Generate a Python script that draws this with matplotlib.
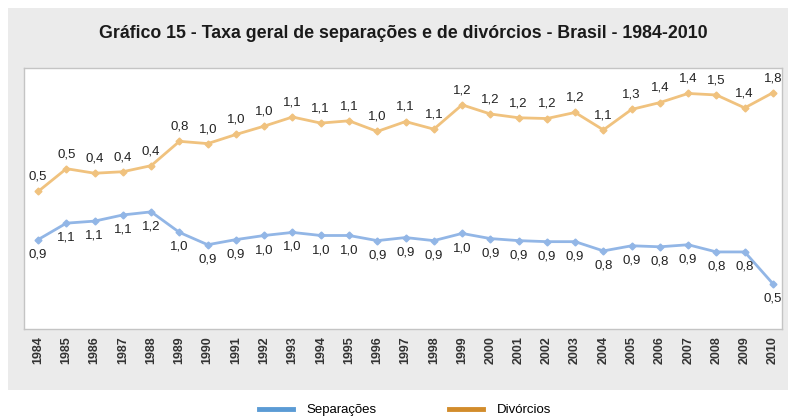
import matplotlib
matplotlib.use('Agg')
import matplotlib.pyplot as plt
from matplotlib.patches import Rectangle
from matplotlib.lines import Line2D

years = list(range(1984, 2011))

# heights of the lines as drawn in the picture (two hidden scales)
div_line = [0.50, 0.80, 0.74, 0.76, 0.84, 1.16, 1.13, 1.25, 1.36, 1.48, 1.40, 1.43, 1.29, 1.42,
            1.32, 1.64, 1.52, 1.47, 1.46, 1.54, 1.31, 1.58, 1.67, 1.79, 1.77, 1.60, 1.80]
sep_line = [0.93, 1.09, 1.11, 1.17, 1.20, 1.00, 0.88, 0.93, 0.97, 1.00, 0.97, 0.97, 0.92, 0.95,
            0.92, 0.99, 0.94, 0.92, 0.91, 0.91, 0.82, 0.87, 0.86, 0.88, 0.81, 0.81, 0.50]

# printed values
div_labels = ['0,5', '0,5', '0,4', '0,4', '0,4', '0,8', '1,0', '1,0', '1,0', '1,1', '1,1', '1,1', '1,0', '1,1',
              '1,1', '1,2', '1,2', '1,2', '1,2', '1,2', '1,1', '1,3', '1,4', '1,4', '1,5', '1,4', '1,8']
sep_labels = ['0,9', '1,1', '1,1', '1,1', '1,2', '1,0', '0,9', '0,9', '1,0', '1,0', '1,0', '1,0', '0,9', '0,9',
              '0,9', '1,0', '0,9', '0,9', '0,9', '0,9', '0,8', '0,9', '0,8', '0,9', '0,8', '0,8', '0,5']

plt.rcParams['font.family'] = ['Liberation Sans', 'DejaVu Sans']

fig = plt.figure(figsize=(7.92, 4.2), dpi=100)
fig.patch.set_facecolor('white')
# grey panel behind title and chart
fig.patches.append(Rectangle((8 / 792, 1 - 390 / 420), 780 / 792, 382 / 420,
                             transform=fig.transFigure, facecolor='#ebebeb', edgecolor='none', zorder=-10))

ax = fig.add_axes([24 / 792, 1 - 329 / 420, 758 / 792, 261 / 420])
ax2 = ax.twinx()

ax.set_facecolor('white')
for s in ax.spines.values():
    s.set_color('#c4c4c4')
    s.set_linewidth(1)
for s in ax2.spines.values():
    s.set_visible(False)

div_color = '#f0c27e'
sep_color = '#92b6e6'

ax.plot(years, div_line, color=div_color, lw=2, marker='D', ms=3.5, zorder=3)
ax2.plot(years, sep_line, color=sep_color, lw=2, marker='D', ms=3.5, zorder=3)

for x, y, t in zip(years, div_line, div_labels):
    ax.annotate(t, (x, y), xytext=(0, 10.5), textcoords='offset points', ha='center', va='center',
                fontsize=9.5, color='#222222')
for x, y, t in zip(years, sep_line, sep_labels):
    ax2.annotate(t, (x, y), xytext=(0, -10.5), textcoords='offset points', ha='center', va='center',
                 fontsize=9.5, color='#222222')

ax.set_xlim(1983.5, 2010.32)
ax.set_ylim(-1.31, 2.125)
ax2.set_ylim(0.06, 2.60)
ax.set_yticks([])
ax2.set_yticks([])
ax.set_xticks(years)
ax.set_xticklabels([str(y) for y in years], rotation=90, fontsize=9, fontweight='bold', color='#333333')
ax.tick_params(axis='x', length=0, pad=5)

fig.text(403 / 792, 1 - 34 / 420, 'Gráfico 15 - Taxa geral de separações e de divórcios - Brasil - 1984-2010',
         ha='center', va='center', fontsize=12.8, fontweight='bold', color='#1a1a1a')

handles = [Line2D([], [], color='#5b9bd5', lw=3.5), Line2D([], [], color='#d28c2c', lw=3.5)]
fig.legend(handles, ['Separações', 'Divórcios'], loc='center', bbox_to_anchor=(405 / 792, 1 - 410 / 420),
           ncol=2, frameon=False, fontsize=9.5, handlelength=2.6, columnspacing=5.5, handletextpad=1.0)

fig.savefig('out.png', dpi=100)
